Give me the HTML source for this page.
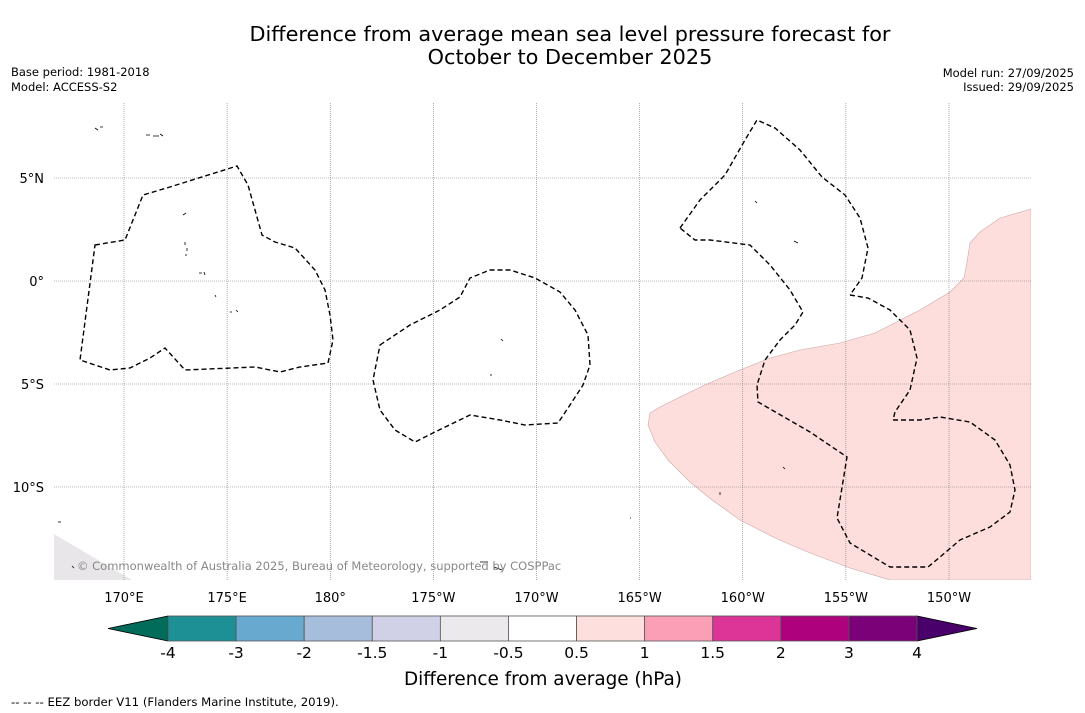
<!DOCTYPE html>
<html><head><meta charset="utf-8"><style>
body{margin:0;background:#fff;font-family:"Liberation Sans","DejaVu Sans",sans-serif;}
svg{display:block}
</style></head><body>
<svg id="chart" width="1085" height="713" viewBox="0 0 1085 713" xmlns="http://www.w3.org/2000/svg" font-family="DejaVu Sans, Liberation Sans, sans-serif">
<text x="570" y="41" text-anchor="middle" font-size="20.8">Difference from average mean sea level pressure forecast for</text>
<text x="570" y="64" text-anchor="middle" font-size="20.8">October to December 2025</text>
<text x="11" y="76" font-size="11.5">Base period: 1981-2018</text>
<text x="11" y="91" font-size="11.5">Model: ACCESS-S2</text>
<text x="1074" y="77" font-size="11.5" text-anchor="end">Model run: 27/09/2025</text>
<text x="1074" y="91" font-size="11.5" text-anchor="end">Issued: 29/09/2025</text>

<g>
<clipPath id="mc"><rect x="54" y="103" width="977" height="477"/></clipPath>
<g clip-path="url(#mc)">
<polygon points="54,534 132,580 54,580" fill="#e8e6e8"/>
<polygon fill="#fddedd" stroke="#c9a8a8" stroke-width="0.6" points="1031,209 1000,218 980,232 970,243 967,262 964,278 950,292 920,310 875,333 840,343 800,350 770,358 735,372 705,385 680,397 660,407 650,413 648,425 655,442 668,460 690,482 712,500 740,520 775,538 810,553 850,568 890,580 1031,580"/>
<g id="grid" stroke="#777" stroke-width="0.6" stroke-dasharray="1,1"></g>
<g fill="none" stroke="#000" stroke-width="1.4" stroke-dasharray="5,3">
<path d="M95,245 L125,240 143,195 170,187 205,176 237,166 248,185 262,235 275,242 295,248 315,270 325,290 330,315 333,340 328,363 300,367 280,372 255,367 185,370 165,348 150,358 130,368 110,370 80,360 Z"/>
<path d="M380,345 L410,325 440,310 460,297 470,278 490,270 510,270 535,278 560,292 575,310 588,335 590,365 583,385 570,405 558,423 525,425 500,420 470,415 435,432 415,442 395,430 380,410 373,380 Z"/>
<path d="M680,228 L700,200 725,175 745,140 757,120 775,128 800,150 822,177 845,195 860,218 868,248 862,278 850,295 M850,295 L868,298 890,310 910,330 917,358 910,390 895,412 893,420 M893,420 L920,420 940,417 970,422 995,440 1010,465 1015,490 1010,512 990,527 960,540 940,557 928,567 890,567 850,543 837,518 847,457 810,432 758,402 757,385 765,360 780,340 795,325 803,312 790,290 770,265 750,245 710,240 695,240 680,228"/>
</g>
<g fill="none" stroke="#000" stroke-width="0.8">
<path d="M146,135 h4 M153,136 h6 M160,134 l3,2"/><path d="M185,242 v3 M187,248 v3 M186,254 v2"/><path d="M199,273 h3 M204,272 l1,3"/><path d="M215,295 l1,2"/><path d="M230,312 h2 M236,310 l2,2"/><path d="M501,339 l2,2"/><path d="M490,375 h2"/><path d="M783,467 l2,2"/><path d="M794,241 l4,2"/><path d="M755,201 l2,2"/><path d="M480,562 h8 M494,567 l8,3"/><path d="M58,522 h3"/><path d="M72,566 l2,2"/><path d="M95,128 l3,2 M100,127 h3"/><path d="M183,215 l3,-2"/><path d="M630,518 h1"/><path d="M720,492 v3"/></g>
</g>
<text x="77" y="570" font-size="11.5" fill="#888">© Commonwealth of Australia 2025, Bureau of Meteorology, supported by COSPPac</text>
<g id="labels" font-size="13"></g>
</g>

<g id="cbar"></g>
<text x="543" y="685" text-anchor="middle" font-size="18.4">Difference from average (hPa)</text>
<text x="11" y="706" font-size="11.7">--  --  -- EEZ border V11 (Flanders Marine Institute, 2019).</text>
</svg>
<script>
const lonTicks=[170,175,180,-175,-170,-165,-160,-155,-150];
const lonLabels=["170°E","175°E","180°","175°W","170°W","165°W","160°W","155°W","150°W"];
const latTicks=[5,0,-5,-10];
const latLabels=["5°N","0°","5°S","10°S"];
const cbLevels=["-4","-3","-2","-1.5","-1","-0.5","0.5","1","1.5","2","3","4"];
const cbColors=["#1d9096","#67a9cf","#a6bddb","#d0d1e6","#ebe9ec","#ffffff","#fde0dd","#fa9fb5","#dd3497","#ae017e","#7a0177"];
const underColor="#016c59", overColor="#49006a";
const NS="http://www.w3.org/2000/svg";
function lonX(l){let d=l<0?l+360:l;return 124+(d-170)*20.625;}
function latY(l){return 281-l*20.6;}
const grid=document.getElementById('grid'),lab=document.getElementById('labels');
lonTicks.forEach((l,i)=>{const x=lonX(l);
 const g=document.createElementNS(NS,'line');g.setAttribute('x1',x);g.setAttribute('x2',x);g.setAttribute('y1',103);g.setAttribute('y2',580);
 
 grid.appendChild(g);
 const t=document.createElementNS(NS,'text');t.setAttribute('x',x);t.setAttribute('y',602);t.setAttribute('text-anchor','middle');t.textContent=lonLabels[i];
 
 lab.appendChild(t);});
latTicks.forEach((l,i)=>{const y=latY(l);
 const g=document.createElementNS(NS,'line');g.setAttribute('x1',54);g.setAttribute('x2',1031);g.setAttribute('y1',y);g.setAttribute('y2',y);
 
 grid.appendChild(g);
 const t=document.createElementNS(NS,'text');t.setAttribute('x',44);t.setAttribute('y',y+5);t.setAttribute('text-anchor','end');t.textContent=latLabels[i];
 
 lab.appendChild(t);});
const cb=document.getElementById('cbar');const x0=168,x1=917,y0=616,h=25;const w=(x1-x0)/cbColors.length;
const tl=document.createElementNS(NS,'polygon');tl.setAttribute('points',`${x0},${y0} ${x0},${y0+h} 108,${y0+h/2}`);tl.setAttribute('fill',underColor);tl.setAttribute('stroke','#000');tl.setAttribute('stroke-width','0.8');

cb.appendChild(tl);
const tr=document.createElementNS(NS,'polygon');tr.setAttribute('points',`${x1},${y0} ${x1},${y0+h} 977,${y0+h/2}`);tr.setAttribute('fill',overColor);tr.setAttribute('stroke','#000');tr.setAttribute('stroke-width','0.8');

cb.appendChild(tr);
cbColors.forEach((c,i)=>{const r=document.createElementNS(NS,'rect');r.setAttribute('x',x0+i*w);r.setAttribute('y',y0);r.setAttribute('width',w);r.setAttribute('height',h);r.setAttribute('fill',c);r.setAttribute('stroke','#555');r.setAttribute('stroke-width','0.8');
 
 cb.appendChild(r);});
cbLevels.forEach((v,i)=>{const t=document.createElementNS(NS,'text');t.setAttribute('x',x0+i*w);t.setAttribute('y',658);t.setAttribute('text-anchor','middle');t.setAttribute('font-size','15.5');t.textContent=v;
 
 cb.appendChild(t);});
</script>
</body></html>
